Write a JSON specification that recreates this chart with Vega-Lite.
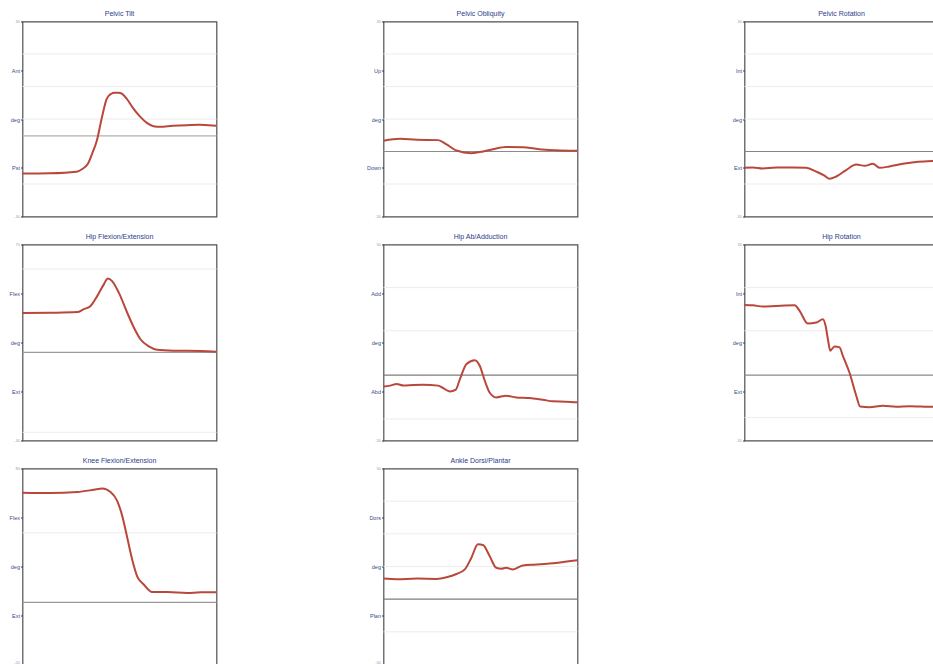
{
  "$schema": "https://vega.github.io/schema/vega-lite/v6.json",
  "background": "white",
  "padding": {"left": 8.5, "top": 8.5, "right": 0, "bottom": 0},
  "datasets": {
    "curves": [
      {"panel": "pt", "t": 0, "v": -16.8}, {"panel": "pt", "t": 14, "v": -16.7}, {"panel": "pt", "t": 27.8, "v": -16.2}, {"panel": "pt", "t": 31, "v": -15.3}, {"panel": "pt", "t": 33.7, "v": -13.8}, {"panel": "pt", "t": 36, "v": -10.5}, {"panel": "pt", "t": 38.3, "v": -6.7}, {"panel": "pt", "t": 40.9, "v": 0.4}, {"panel": "pt", "t": 43.4, "v": 6.2}, {"panel": "pt", "t": 45.5, "v": 7.7}, {"panel": "pt", "t": 47.6, "v": 8.1}, {"panel": "pt", "t": 49.5, "v": 8.1}, {"panel": "pt", "t": 51.2, "v": 7.8}, {"panel": "pt", "t": 54, "v": 6}, {"panel": "pt", "t": 56.9, "v": 3.4}, {"panel": "pt", "t": 60.5, "v": 0.8}, {"panel": "pt", "t": 64.1, "v": -1.2}, {"panel": "pt", "t": 67.5, "v": -2.2}, {"panel": "pt", "t": 70.8, "v": -2.4}, {"panel": "pt", "t": 77.5, "v": -2.1}, {"panel": "pt", "t": 85, "v": -1.9}, {"panel": "pt", "t": 91.5, "v": -1.8}, {"panel": "pt", "t": 96, "v": -1.9}, {"panel": "pt", "t": 100, "v": -2.1},

      {"panel": "po", "t": 0, "v": -6.7}, {"panel": "po", "t": 8.6, "v": -6.1}, {"panel": "po", "t": 17.1, "v": -6.4}, {"panel": "po", "t": 28.2, "v": -6.5}, {"panel": "po", "t": 32.5, "v": -7.8}, {"panel": "po", "t": 37.6, "v": -9.7}, {"panel": "po", "t": 45.3, "v": -10.5}, {"panel": "po", "t": 51.3, "v": -10}, {"panel": "po", "t": 56.4, "v": -9.3}, {"panel": "po", "t": 63.2, "v": -8.6}, {"panel": "po", "t": 71.8, "v": -8.7}, {"panel": "po", "t": 80.3, "v": -9.3}, {"panel": "po", "t": 88.9, "v": -9.6}, {"panel": "po", "t": 100, "v": -9.8},

      {"panel": "pr", "t": 0, "v": -15}, {"panel": "pr", "t": 4.3, "v": -14.9}, {"panel": "pr", "t": 9.4, "v": -15.2}, {"panel": "pr", "t": 16.3, "v": -14.9}, {"panel": "pr", "t": 24.9, "v": -14.9}, {"panel": "pr", "t": 31.8, "v": -15}, {"panel": "pr", "t": 37, "v": -16.2}, {"panel": "pr", "t": 41.2, "v": -17.4}, {"panel": "pr", "t": 43.8, "v": -18.4}, {"panel": "pr", "t": 47.3, "v": -17.7}, {"panel": "pr", "t": 52.4, "v": -15.7}, {"panel": "pr", "t": 57.6, "v": -14}, {"panel": "pr", "t": 61.9, "v": -14.4}, {"panel": "pr", "t": 66.2, "v": -13.8}, {"panel": "pr", "t": 69.6, "v": -15}, {"panel": "pr", "t": 74.7, "v": -14.6}, {"panel": "pr", "t": 81.6, "v": -13.8}, {"panel": "pr", "t": 88.5, "v": -13.2}, {"panel": "pr", "t": 96.9, "v": -12.9}, {"panel": "pr", "t": 100, "v": -12.8},

      {"panel": "hf", "t": 0, "v": 9}, {"panel": "hf", "t": 14.4, "v": 9.1}, {"panel": "hf", "t": 28.2, "v": 9.3}, {"panel": "hf", "t": 31.6, "v": 10.2}, {"panel": "hf", "t": 35.1, "v": 11.2}, {"panel": "hf", "t": 38.5, "v": 14.2}, {"panel": "hf", "t": 41.9, "v": 17.8}, {"panel": "hf", "t": 44, "v": 19.6}, {"panel": "hf", "t": 46.2, "v": 18.8}, {"panel": "hf", "t": 49.7, "v": 15.2}, {"panel": "hf", "t": 54, "v": 9.1}, {"panel": "hf", "t": 57.4, "v": 4.6}, {"panel": "hf", "t": 60.8, "v": 1}, {"panel": "hf", "t": 65.1, "v": -1.2}, {"panel": "hf", "t": 69.4, "v": -2.2}, {"panel": "hf", "t": 78, "v": -2.5}, {"panel": "hf", "t": 91.8, "v": -2.6}, {"panel": "hf", "t": 100, "v": -2.8},

      {"panel": "ha", "t": 0, "v": -13.5}, {"panel": "ha", "t": 3.4, "v": -13.2}, {"panel": "ha", "t": 6.8, "v": -12.7}, {"panel": "ha", "t": 10.3, "v": -13.2}, {"panel": "ha", "t": 15.4, "v": -13}, {"panel": "ha", "t": 20.5, "v": -12.9}, {"panel": "ha", "t": 28.2, "v": -13.2}, {"panel": "ha", "t": 30.8, "v": -14}, {"panel": "ha", "t": 34.2, "v": -15}, {"panel": "ha", "t": 37.3, "v": -14.4}, {"panel": "ha", "t": 39.4, "v": -11.2}, {"panel": "ha", "t": 42.8, "v": -6.6}, {"panel": "ha", "t": 47.1, "v": -5.4}, {"panel": "ha", "t": 49.6, "v": -7.1}, {"panel": "ha", "t": 52.2, "v": -11.7}, {"panel": "ha", "t": 54.7, "v": -15.3}, {"panel": "ha", "t": 58.1, "v": -16.8}, {"panel": "ha", "t": 63.2, "v": -16.3}, {"panel": "ha", "t": 68.4, "v": -16.8}, {"panel": "ha", "t": 75.2, "v": -17}, {"panel": "ha", "t": 82.1, "v": -17.5}, {"panel": "ha", "t": 87.2, "v": -18}, {"panel": "ha", "t": 94, "v": -18.1}, {"panel": "ha", "t": 100, "v": -18.3},

      {"panel": "hr", "t": 0, "v": 11.5}, {"panel": "hr", "t": 4.3, "v": 11.4}, {"panel": "hr", "t": 9.4, "v": 11}, {"panel": "hr", "t": 16.3, "v": 11.2}, {"panel": "hr", "t": 25.8, "v": 11.4}, {"panel": "hr", "t": 28.4, "v": 9.7}, {"panel": "hr", "t": 32.6, "v": 5.8}, {"panel": "hr", "t": 37, "v": 6.1}, {"panel": "hr", "t": 40.4, "v": 7.1}, {"panel": "hr", "t": 41.8, "v": 5.1}, {"panel": "hr", "t": 43, "v": 1}, {"panel": "hr", "t": 44.2, "v": -2.5}, {"panel": "hr", "t": 46.4, "v": -1.2}, {"panel": "hr", "t": 49, "v": -1.5}, {"panel": "hr", "t": 50.7, "v": -4.1}, {"panel": "hr", "t": 54.1, "v": -9.2}, {"panel": "hr", "t": 57.6, "v": -16.3}, {"panel": "hr", "t": 59.6, "v": -19.6}, {"panel": "hr", "t": 64.4, "v": -19.8}, {"panel": "hr", "t": 71.3, "v": -19.4}, {"panel": "hr", "t": 78.2, "v": -19.7}, {"panel": "hr", "t": 85.1, "v": -19.5}, {"panel": "hr", "t": 96.9, "v": -19.7}, {"panel": "hr", "t": 100, "v": -19.7},

      {"panel": "kf", "t": 0, "v": 22.6}, {"panel": "kf", "t": 14.4, "v": 22.5}, {"panel": "kf", "t": 28.2, "v": 22.8}, {"panel": "kf", "t": 36.8, "v": 23.5}, {"panel": "kf", "t": 41.1, "v": 23.9}, {"panel": "kf", "t": 45.4, "v": 22.8}, {"panel": "kf", "t": 48.8, "v": 20.1}, {"panel": "kf", "t": 51.4, "v": 15.5}, {"panel": "kf", "t": 54, "v": 8.8}, {"panel": "kf", "t": 56.5, "v": 2.2}, {"panel": "kf", "t": 59.1, "v": -3}, {"panel": "kf", "t": 62.5, "v": -5.5}, {"panel": "kf", "t": 66.8, "v": -7.8}, {"panel": "kf", "t": 74.6, "v": -7.8}, {"panel": "kf", "t": 84.9, "v": -8.1}, {"panel": "kf", "t": 91.8, "v": -7.9}, {"panel": "kf", "t": 100, "v": -7.9},

      {"panel": "ad", "t": 0, "v": -3.7}, {"panel": "ad", "t": 6.9, "v": -3.9}, {"panel": "ad", "t": 17.1, "v": -3.7}, {"panel": "ad", "t": 27.4, "v": -3.8}, {"panel": "ad", "t": 32.5, "v": -3.3}, {"panel": "ad", "t": 37.6, "v": -2.3}, {"panel": "ad", "t": 41.9, "v": -0.9}, {"panel": "ad", "t": 45.3, "v": 2.7}, {"panel": "ad", "t": 48.7, "v": 6.8}, {"panel": "ad", "t": 51.3, "v": 6.6}, {"panel": "ad", "t": 54.7, "v": 3.2}, {"panel": "ad", "t": 58.1, "v": -0.4}, {"panel": "ad", "t": 60.7, "v": -0.7}, {"panel": "ad", "t": 63.2, "v": -0.4}, {"panel": "ad", "t": 66.7, "v": -0.9}, {"panel": "ad", "t": 71.8, "v": 0.3}, {"panel": "ad", "t": 78.7, "v": 0.6}, {"panel": "ad", "t": 88.9, "v": 1.1}, {"panel": "ad", "t": 100, "v": 1.9}
    ],
    "grid": [
      {"panel": "pt", "v": 20}, {"panel": "pt", "v": 10}, {"panel": "pt", "v": 0}, {"panel": "pt", "v": -20},
      {"panel": "po", "v": 20}, {"panel": "po", "v": 10}, {"panel": "po", "v": 0}, {"panel": "po", "v": -20},
      {"panel": "pr", "v": 20}, {"panel": "pr", "v": 10}, {"panel": "pr", "v": 0}, {"panel": "pr", "v": -20},
      {"panel": "hf", "v": 22.5}, {"panel": "hf", "v": -27.5},
      {"panel": "ha", "v": 16.8}, {"panel": "ha", "v": 3.6}, {"panel": "ha", "v": -23.4},
      {"panel": "hr", "v": 16.8}, {"panel": "hr", "v": 3.6}, {"panel": "hr", "v": -23},
      {"panel": "kf", "v": 10.3},
      {"panel": "ad", "v": 20}, {"panel": "ad", "v": 10}, {"panel": "ad", "v": 0}, {"panel": "ad", "v": -20}
    ],
    "ref": [
      {"panel": "pt", "v": -5.2}, {"panel": "po", "v": -10}, {"panel": "pr", "v": -10},
      {"panel": "hf", "v": -3}, {"panel": "ha", "v": -10}, {"panel": "hr", "v": -10},
      {"panel": "kf", "v": -11}, {"panel": "ad", "v": -10}
    ]
  },
  "concat": [
    {
      "title": "Pelvic Tilt", "width": 194, "height": 195,
      "encoding": {"y": {"field": "v", "type": "quantitative", "scale": {"domain": [-30, 30], "nice": false}, "axis": {"values": [-30, -15, 0, 15, 30], "labelExpr": "datum.value == 30 ? '30' : datum.value == 15 ? 'Ant' : datum.value == 0 ? 'deg' : datum.value == -15 ? 'Pst' : '-30'"}}},
      "layer": [
        {"data": {"name": "grid"}, "transform": [{"filter": "datum.panel == 'pt'"}], "mark": {"type": "rule", "color": "#ececec", "strokeWidth": 1}},
        {"data": {"name": "ref"}, "transform": [{"filter": "datum.panel == 'pt'"}], "mark": {"type": "rule", "color": "#b0b2aa", "strokeWidth": 1.2}},
        {"data": {"name": "curves"}, "transform": [{"filter": "datum.panel == 'pt'"}], "mark": {"type": "line", "color": "#b9473b", "strokeWidth": 2, "interpolate": "monotone"}, "encoding": {"x": {"field": "t", "type": "quantitative", "scale": {"domain": [0, 100], "nice": false}, "axis": null}}}
      ]
    },
    {
      "title": "Pelvic Obliquity", "width": 194, "height": 195,
      "encoding": {"y": {"field": "v", "type": "quantitative", "scale": {"domain": [-30, 30], "nice": false}, "axis": {"values": [-30, -15, 0, 15, 30], "labelExpr": "datum.value == 30 ? '30' : datum.value == 15 ? 'Up' : datum.value == 0 ? 'deg' : datum.value == -15 ? 'Down' : '-30'"}}},
      "layer": [
        {"data": {"name": "grid"}, "transform": [{"filter": "datum.panel == 'po'"}], "mark": {"type": "rule", "color": "#ececec", "strokeWidth": 1}},
        {"data": {"name": "ref"}, "transform": [{"filter": "datum.panel == 'po'"}], "mark": {"type": "rule", "color": "#8c8c8c", "strokeWidth": 1.2}},
        {"data": {"name": "curves"}, "transform": [{"filter": "datum.panel == 'po'"}], "mark": {"type": "line", "color": "#b9473b", "strokeWidth": 2, "interpolate": "monotone"}, "encoding": {"x": {"field": "t", "type": "quantitative", "scale": {"domain": [0, 100], "nice": false}, "axis": null}}}
      ]
    },
    {
      "title": "Pelvic Rotation", "width": 194, "height": 195,
      "encoding": {"y": {"field": "v", "type": "quantitative", "scale": {"domain": [-30, 30], "nice": false}, "axis": {"values": [-30, -15, 0, 15, 30], "labelExpr": "datum.value == 30 ? '30' : datum.value == 15 ? 'Int' : datum.value == 0 ? 'deg' : datum.value == -15 ? 'Ext' : '-30'"}}},
      "layer": [
        {"data": {"name": "grid"}, "transform": [{"filter": "datum.panel == 'pr'"}], "mark": {"type": "rule", "color": "#ececec", "strokeWidth": 1}},
        {"data": {"name": "ref"}, "transform": [{"filter": "datum.panel == 'pr'"}], "mark": {"type": "rule", "color": "#7d8a7d", "strokeWidth": 1.2}},
        {"data": {"name": "curves"}, "transform": [{"filter": "datum.panel == 'pr'"}], "mark": {"type": "line", "color": "#b9473b", "strokeWidth": 2, "interpolate": "monotone"}, "encoding": {"x": {"field": "t", "type": "quantitative", "scale": {"domain": [0, 100], "nice": false}, "axis": null}}}
      ]
    },
    {
      "title": "Hip Flexion/Extension", "width": 194, "height": 196,
      "encoding": {"y": {"field": "v", "type": "quantitative", "scale": {"domain": [-30, 30], "nice": false}, "axis": {"values": [-30, -15, 0, 15, 30], "labelExpr": "datum.value == 30 ? '70' : datum.value == 15 ? 'Flex' : datum.value == 0 ? 'deg' : datum.value == -15 ? 'Ext' : '-30'"}}},
      "layer": [
        {"data": {"name": "grid"}, "transform": [{"filter": "datum.panel == 'hf'"}], "mark": {"type": "rule", "color": "#ececec", "strokeWidth": 1}},
        {"data": {"name": "ref"}, "transform": [{"filter": "datum.panel == 'hf'"}], "mark": {"type": "rule", "color": "#9a9a9a", "strokeWidth": 1.2}},
        {"data": {"name": "curves"}, "transform": [{"filter": "datum.panel == 'hf'"}], "mark": {"type": "line", "color": "#b9473b", "strokeWidth": 2, "interpolate": "monotone"}, "encoding": {"x": {"field": "t", "type": "quantitative", "scale": {"domain": [0, 100], "nice": false}, "axis": null}}}
      ]
    },
    {
      "title": "Hip Ab/Adduction", "width": 194, "height": 196,
      "encoding": {"y": {"field": "v", "type": "quantitative", "scale": {"domain": [-30, 30], "nice": false}, "axis": {"values": [-30, -15, 0, 15, 30], "labelExpr": "datum.value == 30 ? '30' : datum.value == 15 ? 'Add' : datum.value == 0 ? 'deg' : datum.value == -15 ? 'Abd' : '-30'"}}},
      "layer": [
        {"data": {"name": "grid"}, "transform": [{"filter": "datum.panel == 'ha'"}], "mark": {"type": "rule", "color": "#ececec", "strokeWidth": 1}},
        {"data": {"name": "ref"}, "transform": [{"filter": "datum.panel == 'ha'"}], "mark": {"type": "rule", "color": "#7d7d7d", "strokeWidth": 1.2}},
        {"data": {"name": "curves"}, "transform": [{"filter": "datum.panel == 'ha'"}], "mark": {"type": "line", "color": "#b9473b", "strokeWidth": 2, "interpolate": "monotone"}, "encoding": {"x": {"field": "t", "type": "quantitative", "scale": {"domain": [0, 100], "nice": false}, "axis": null}}}
      ]
    },
    {
      "title": "Hip Rotation", "width": 194, "height": 196,
      "encoding": {"y": {"field": "v", "type": "quantitative", "scale": {"domain": [-30, 30], "nice": false}, "axis": {"values": [-30, -15, 0, 15, 30], "labelExpr": "datum.value == 30 ? '30' : datum.value == 15 ? 'Int' : datum.value == 0 ? 'deg' : datum.value == -15 ? 'Ext' : '-30'"}}},
      "layer": [
        {"data": {"name": "grid"}, "transform": [{"filter": "datum.panel == 'hr'"}], "mark": {"type": "rule", "color": "#ececec", "strokeWidth": 1}},
        {"data": {"name": "ref"}, "transform": [{"filter": "datum.panel == 'hr'"}], "mark": {"type": "rule", "color": "#8a8a8a", "strokeWidth": 1.2}},
        {"data": {"name": "curves"}, "transform": [{"filter": "datum.panel == 'hr'"}], "mark": {"type": "line", "color": "#b9473b", "strokeWidth": 2, "interpolate": "monotone"}, "encoding": {"x": {"field": "t", "type": "quantitative", "scale": {"domain": [0, 100], "nice": false}, "axis": null}}}
      ]
    },
    {
      "title": "Knee Flexion/Extension", "width": 194, "height": 196,
      "encoding": {"y": {"field": "v", "type": "quantitative", "scale": {"domain": [-30, 30], "nice": false}, "axis": {"values": [-30, -15, 0, 15, 30], "labelBaseline": {"condition": {"test": "datum.value == -30", "value": "bottom"}, "value": "middle"}, "labelExpr": "datum.value == 30 ? '80' : datum.value == 15 ? 'Flex' : datum.value == 0 ? 'deg' : datum.value == -15 ? 'Ext' : '-20'"}}},
      "layer": [
        {"data": {"name": "grid"}, "transform": [{"filter": "datum.panel == 'kf'"}], "mark": {"type": "rule", "color": "#ececec", "strokeWidth": 1}},
        {"data": {"name": "ref"}, "transform": [{"filter": "datum.panel == 'kf'"}], "mark": {"type": "rule", "color": "#9a9a9a", "strokeWidth": 1.2}},
        {"data": {"name": "curves"}, "transform": [{"filter": "datum.panel == 'kf'"}], "mark": {"type": "line", "color": "#b9473b", "strokeWidth": 2, "interpolate": "monotone"}, "encoding": {"x": {"field": "t", "type": "quantitative", "scale": {"domain": [0, 100], "nice": false}, "axis": null}}}
      ]
    },
    {
      "title": "Ankle Dorsi/Plantar", "width": 194, "height": 196,
      "encoding": {"y": {"field": "v", "type": "quantitative", "scale": {"domain": [-30, 30], "nice": false}, "axis": {"values": [-30, -15, 0, 15, 30], "labelBaseline": {"condition": {"test": "datum.value == -30", "value": "bottom"}, "value": "middle"}, "labelExpr": "datum.value == 30 ? '30' : datum.value == 15 ? 'Dors' : datum.value == 0 ? 'deg' : datum.value == -15 ? 'Plan' : '-30'"}}},
      "layer": [
        {"data": {"name": "grid"}, "transform": [{"filter": "datum.panel == 'ad'"}], "mark": {"type": "rule", "color": "#ececec", "strokeWidth": 1}},
        {"data": {"name": "ref"}, "transform": [{"filter": "datum.panel == 'ad'"}], "mark": {"type": "rule", "color": "#7d7d7d", "strokeWidth": 1.2}},
        {"data": {"name": "curves"}, "transform": [{"filter": "datum.panel == 'ad'"}], "mark": {"type": "line", "color": "#b9473b", "strokeWidth": 2, "interpolate": "monotone"}, "encoding": {"x": {"field": "t", "type": "quantitative", "scale": {"domain": [0, 100], "nice": false}, "axis": null}}}
      ]
    }
  ],
  "columns": 3,
  "spacing": {"row": 28, "column": 167},
  "bounds": "flush",
  "config": {
    "view": {"stroke": "#505050", "strokeWidth": 1.2},
    "font": "Liberation Sans",
    "title": {"fontSize": 7, "color": "#2d3c8c", "fontWeight": "normal", "offset": 3, "font": "Liberation Sans"},
    "axisY": {
      "title": null,
      "domain": false,
      "grid": false,
      "tickSize": 2,
      "tickColor": "#3a3a4a",
      "tickWidth": 1,
      "labelPadding": 1,
      "labelFlush": false,
      "labelFont": "Liberation Sans",
      "labelFontSize": {"condition": {"test": "abs(datum.value) == 30", "value": 4}, "value": 5.5},
      "labelColor": {"condition": {"test": "abs(datum.value) == 30", "value": "#a0a0a8"}, "value": "#3d4a86"}
    }
  }
}
